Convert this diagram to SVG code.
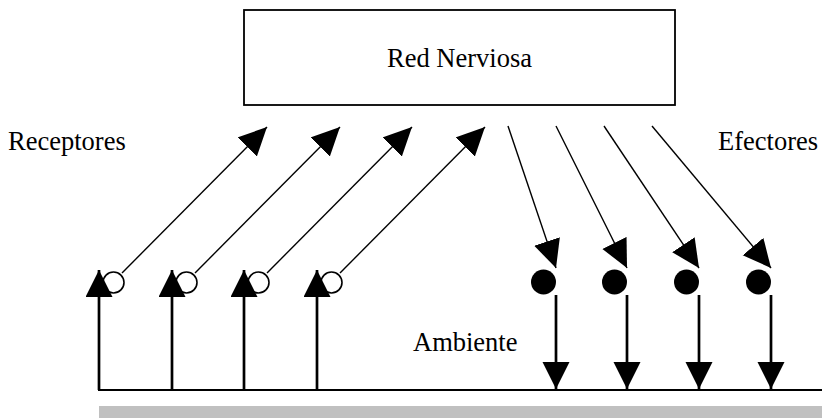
<svg xmlns="http://www.w3.org/2000/svg" width="822" height="418" viewBox="0 0 822 418">
  <style>
    .lbl { font-family: "Liberation Serif", "Times New Roman", serif; font-size: 26.5px; fill: #000; }
    .thin { stroke: #000; stroke-width: 1.4; fill: none; }
    .thick { stroke: #000; stroke-width: 2.7; fill: none; }
  </style>
  <defs>
    <marker id="head" markerUnits="userSpaceOnUse" markerWidth="30" markerHeight="30" refX="28" refY="13.5" orient="auto">
      <path d="M0,0 L28,13.5 L0,27 z" fill="#000"/>
    </marker>
    <marker id="headV" markerUnits="userSpaceOnUse" markerWidth="30" markerHeight="30" refX="27" refY="13.5" orient="auto">
      <path d="M0,0 L27,13.5 L0,27 z" fill="#000"/>
    </marker>
  </defs>

  <rect width="822" height="418" fill="#fff"/>

  <!-- ground and environment band -->
  <g id="ambiente">
    <rect x="99" y="406" width="723" height="12" fill="#c0c0c0"/>
    <line x1="98" y1="390" x2="822" y2="390" stroke="#000" stroke-width="2"/>
    <text class="lbl" x="413" y="351">Ambiente</text>
  </g>

  <!-- neural network box -->
  <g id="red-nerviosa">
    <rect x="244" y="10" width="431" height="95" fill="#fff" stroke="#000" stroke-width="1.8"/>
    <text class="lbl" x="459.5" y="67" text-anchor="middle">Red Nerviosa</text>
  </g>

  <text class="lbl" x="8" y="150">Receptores</text>
  <text class="lbl" x="718" y="150">Efectores</text>

  <!-- receptor cells (open circles) -->
  <g id="receptores" fill="#fff" stroke="#000" stroke-width="1.6">
    <circle cx="113.5" cy="282.5" r="10.5"/>
    <circle cx="186.5" cy="282.5" r="10.5"/>
    <circle cx="258.5" cy="282.5" r="10.5"/>
    <circle cx="331.5" cy="282.5" r="10.5"/>
  </g>

  <!-- effector cells (filled circles) -->
  <g id="efectores" fill="#000">
    <circle cx="543.5" cy="282" r="12.5"/>
    <circle cx="614.5" cy="282" r="12.5"/>
    <circle cx="686.5" cy="282" r="12.5"/>
    <circle cx="758.5" cy="282" r="12.5"/>
  </g>

  <g id="connectors">
    <!-- environment to receptors -->
    <g class="thick" marker-end="url(#headV)">
      <line x1="99" y1="390" x2="99" y2="270"/>
      <line x1="172" y1="390" x2="172" y2="270"/>
      <line x1="244" y1="390" x2="244" y2="270"/>
      <line x1="317" y1="390" x2="317" y2="270"/>
    </g>
    <!-- receptors to network -->
    <g class="thin" marker-end="url(#head)">
      <line x1="122" y1="273" x2="267" y2="127"/>
      <line x1="195" y1="273" x2="340" y2="127"/>
      <line x1="267" y1="273" x2="412" y2="127"/>
      <line x1="340" y1="273" x2="485" y2="127"/>
    </g>
    <!-- network to effectors -->
    <g class="thin" marker-end="url(#head)">
      <line x1="508" y1="126" x2="556" y2="268"/>
      <line x1="556" y1="126" x2="627" y2="268"/>
      <line x1="604" y1="126" x2="699" y2="268"/>
      <line x1="652" y1="126" x2="771" y2="268"/>
    </g>
    <!-- effectors to environment -->
    <g class="thick" marker-end="url(#headV)">
      <line x1="556" y1="295" x2="556" y2="389"/>
      <line x1="627" y1="295" x2="627" y2="389"/>
      <line x1="699" y1="295" x2="699" y2="389"/>
      <line x1="771" y1="295" x2="771" y2="389"/>
    </g>
  </g>
</svg>
